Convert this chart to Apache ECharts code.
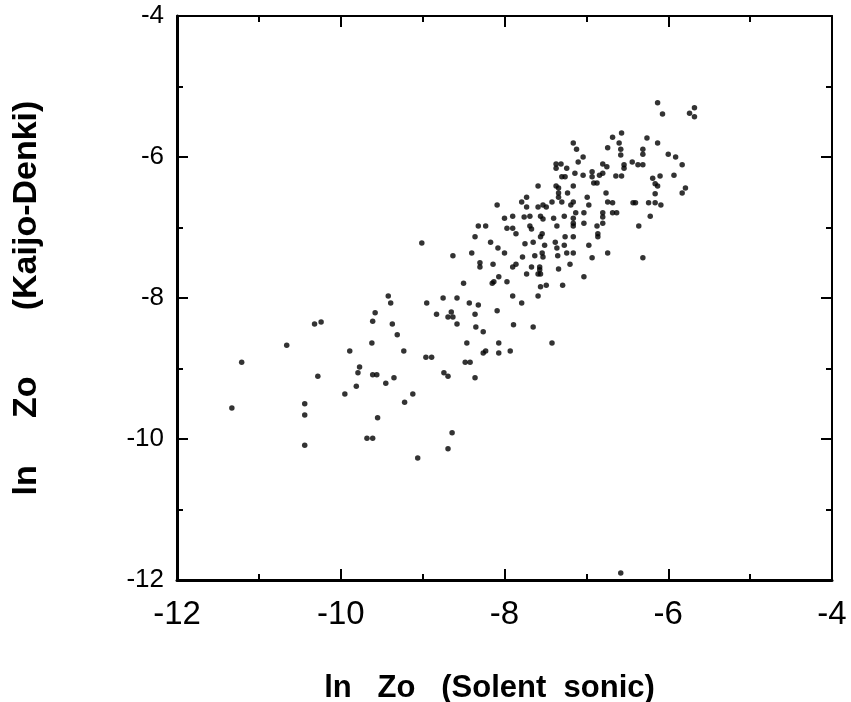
<!DOCTYPE html>
<html>
<head>
<meta charset="utf-8">
<script src="https://cdn.jsdelivr.net/npm/echarts@6/dist/echarts.min.js"></script>
<style>
html, body { margin: 0; padding: 0; background: #fff; }
#chart { width: 851px; height: 702px; }
</style>
</head>
<body>
<div id="chart"></div>
<script>
// ln Zo, Solent sonic (x) vs Kaijo-Denki (y)
var solentSonic = [
  -9.42,-9.39,-9.58,-9.61,-9.37,-9.31,-9.62,-9.89,-10.24,-10.32,-10.66,-11.21,-9.77,-9.79,-10.28,-9.61,-9.56,-9.81,-9.95,-9.45,
  -9.35,-9.23,-9.12,-9.22,-9.55,-8.64,-8.69,-9.06,-9.68,-9.61,-10.44,-10.44,-10.44,-11.33,
  -7.16,-7.12,-7.10,-7.37,-7.37,-7.31,-7.24,-7.14,-7.30,-7.26,-7.59,-7.37,-7.34,-7.16,-7.34,-7.34,-7.23,-7.73,-8.09,-7.79,
  -7.73,-7.59,-7.53,-7.49,-7.42,-7.30,-7.16,-7.19,-8.00,-7.90,-7.76,-7.69,-7.56,-7.53,-7.40,-7.27,-7.13,-7.16,-7.16,-7.16,
  -8.32,-8.23,-7.97,-7.90,-7.86,-7.69,-7.67,-7.36,-7.54,-7.56,-7.26,-7.16,-8.36,-8.17,-7.75,-7.65,-7.51,-7.38,-7.36,-7.27,
  -8.08,-8.00,-8.40,-8.63,-9.01,-7.78,-7.63,-7.54,-7.53,-7.35,-7.24,-7.16,-8.30,-8.30,-8.14,-7.90,-7.86,-7.67,-7.57,-7.57,
  -7.59,-7.56,-7.73,-7.34,-7.20,-8.07,-8.15,-8.13,-7.97,-8.50,-7.56,-7.49,-7.29,-7.90,-7.59,-7.79,-8.95,-8.75,-8.58,-8.43,
  -8.32,-8.65,-8.83,-8.69,-8.63,-8.36,-8.09,-8.58,-8.35,-8.26,-7.89,-7.65,-8.46,-8.07,-7.42,-8.26,-8.23,-8.07,-7.93,-8.96,
  -8.89,-8.48,-8.42,-8.74,-8.69,-8.36,
  -6.13,-6.07,-5.68,-5.74,-5.68,-6.57,-6.68,-6.26,-6.13,-6.60,-6.74,-6.58,-6.58,-6.31,-6.31,-6.00,-5.91,-5.83,-7.04,-6.80,
  -6.75,-6.54,-6.54,-6.44,-6.37,-6.31,-7.04,-6.93,-6.93,-6.84,-6.80,-6.64,-6.57,-6.19,-6.10,-5.93,-6.91,-6.87,-6.16,-6.13,
  -5.79,-5.83,-6.76,-6.16,-6.99,-6.97,-6.74,-6.68,-6.43,-6.40,-6.24,-6.16,-6.09,-7.03,-6.68,-6.63,-6.80,-6.80,-6.80,-6.22,
  -7.03,-6.87,-6.86,-6.86,-6.36,-6.97,-6.74,-6.93,-6.31,-7.03,-6.58
];
var kaijoDenki = [
  -7.97,-8.07,-8.21,-8.33,-8.37,-8.52,-8.64,-8.75,-8.34,-8.37,-8.67,-8.91,-8.98,-9.06,-9.11,-9.09,-9.09,-9.25,-9.36,-9.21,
  -9.13,-8.75,-9.36,-9.48,-9.70,-9.91,-10.14,-10.27,-9.99,-9.99,-9.50,-9.66,-10.09,-9.56,
  -5.80,-5.89,-6.07,-6.10,-6.16,-6.10,-6.16,-6.23,-6.28,-6.28,-6.41,-6.41,-6.44,-6.41,-6.51,-6.57,-6.51,-6.57,-6.68,-6.64,
  -6.71,-6.71,-6.68,-6.71,-6.64,-6.64,-6.64,-6.68,-6.87,-6.84,-6.85,-6.84,-6.84,-6.88,-6.87,-6.84,-6.79,-6.87,-6.94,-6.98,
  -6.98,-6.98,-7.01,-7.01,-7.09,-6.98,-7.02,-6.98,-7.09,-7.13,-7.13,-7.13,-7.13,-7.21,-7.23,-7.21,-7.25,-7.21,-7.29,-7.25,
  -7.29,-7.36,-7.36,-7.40,-7.22,-7.42,-7.40,-7.36,-7.42,-7.40,-7.36,-7.36,-7.50,-7.56,-7.52,-7.56,-7.52,-7.56,-7.56,-7.60,
  -7.66,-7.66,-7.66,-7.59,-7.52,-7.70,-7.79,-7.77,-7.77,-7.79,-7.84,-7.82,-7.82,-7.97,-7.97,-8.07,-8.07,-8.00,-8.00,-8.07,
  -8.10,-8.20,-8.23,-8.27,-8.27,-8.23,-8.18,-8.37,-8.41,-8.48,-8.38,-8.41,-8.64,-8.64,-8.64,-8.78,-8.75,-8.78,-8.75,-8.84,
  -8.84,-8.91,-8.91,-9.06,-9.11,-9.13,
  -5.23,-5.39,-5.30,-5.38,-5.43,-5.66,-5.72,-5.73,-5.80,-5.80,-5.87,-5.89,-5.97,-5.89,-5.96,-5.96,-6.00,-6.11,-6.00,-6.10,
  -6.14,-6.11,-6.16,-6.07,-6.11,-6.11,-6.26,-6.21,-6.28,-6.26,-6.23,-6.27,-6.27,-6.30,-6.27,-6.26,-6.37,-6.37,-6.38,-6.41,
  -6.44,-6.51,-6.51,-6.52,-6.57,-6.68,-6.64,-6.65,-6.65,-6.65,-6.65,-6.65,-6.68,-6.79,-6.79,-6.79,-6.79,-6.85,-6.94,-6.84,
  -6.94,-6.98,-7.09,-7.13,-6.98,-7.25,-7.36,-7.43,-7.43,-7.70,-11.90
];
var axisMin = -12, axisMax = -4;

var points = solentSonic.map(function (x, i) { return [x, kaijoDenki[i]]; });

function evenOnly(v) { return (Math.round(v) % 2 === 0) ? String(v) : ''; }

var frameAxis = function (pos, showLabel, lineW, isX) {
  return {
    type: 'value', position: pos, min: axisMin, max: axisMax, interval: 2,
    axisLine: { show: true, onZero: false, lineStyle: { color: '#000', width: lineW } },
    axisTick: { show: true, inside: true, length: 11, lineStyle: { color: '#000', width: 2 } },
    minorTick: { show: true, splitNumber: 2, length: 6, lineStyle: { color: '#000', width: 2 } },
    splitLine: { show: false },
    axisLabel: showLabel ? {
      show: true, color: '#000',
      fontFamily: 'Liberation Sans, Arial, sans-serif',
      fontSize: isX ? 33 : 26,
      margin: isX ? 18 : 13,
      formatter: evenOnly
    } : { show: false }
  };
};

var xBottom = frameAxis('bottom', true, 3, true);
xBottom.name = 'ln   Zo   (Solent  sonic)';
xBottom.nameLocation = 'middle';
xBottom.nameGap = 93;
xBottom.nameTextStyle = { color: '#000', fontSize: 31, fontWeight: 'bold',
  fontFamily: 'Liberation Sans, Arial, sans-serif', padding: [0, 30, 0, 0] };

var yLeft = frameAxis('left', true, 3, false);
yLeft.name = 'ln     Zo       (Kaijo-Denki)';
yLeft.nameLocation = 'middle';
yLeft.nameGap = 133;
yLeft.nameTextStyle = { color: '#000', fontSize: 34, fontWeight: 'bold',
  fontFamily: 'Liberation Sans, Arial, sans-serif' };

var option = {
  backgroundColor: '#fff',
  animation: false,
  grid: { left: 177, right: 19, top: 16, bottom: 122, containLabel: false, outerBoundsMode: 'none' },
  xAxis: [xBottom, frameAxis('top', false, 2, true)],
  yAxis: [yLeft, frameAxis('right', false, 2, false)],
  series: [{
    type: 'scatter',
    data: points,
    symbol: 'circle',
    symbolSize: 5.5,
    itemStyle: { color: '#000' }
  }]
};

var myChart = echarts.init(document.getElementById('chart'));
myChart.setOption(option);
</script>
</body>
</html>
